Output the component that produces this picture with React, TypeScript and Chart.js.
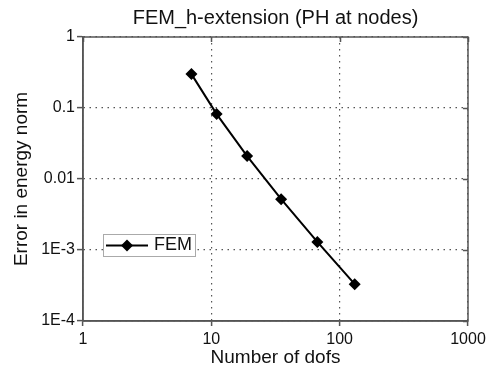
import React, { useEffect, useRef } from "react";
import { Chart, registerables } from "chart.js";

Chart.register(...registerables);

const dofs = [7, 11, 19, 35, 67, 131];
const errors = [0.3, 0.082, 0.021, 0.0052, 0.0013, 0.00033];
const xTickValues = [1, 10, 100, 1000];
const xTickLabels = ["1", "10", "100", "1000"];
const yTickValues = [1, 0.1, 0.01, 0.001, 0.0001];
const yTickLabels = ["1", "0.1", "0.01", "1E-3", "1E-4"];
const seriesName = "FEM";
const chartTitle = "FEM_h-extension (PH at nodes)";
const xTitle = "Number of dofs";
const yTitle = "Error in energy norm";

const FONT = '"Liberation Sans", Arial, Helvetica, sans-serif';
const AXIS_COLOR = "#555";
const GRID_COLOR = "#555";
const TEXT_COLOR = "#111";

function labelFor(values: number[], labels: string[], v: number) {
  const i = values.findIndex((t) => Math.abs(Math.log10(t) - Math.log10(v)) < 1e-6);
  return i >= 0 ? labels[i] : "";
}

const decorPlugin = {
  id: "decor",
  afterDraw(chart: any) {
    const { ctx, chartArea: a, scales } = chart;
    ctx.save();
    // frame
    ctx.strokeStyle = AXIS_COLOR;
    ctx.lineWidth = 1.5;
    ctx.setLineDash([]);
    ctx.strokeRect(a.left, a.top, a.right - a.left, a.bottom - a.top);
    // inward ticks on top and right
    ctx.beginPath();
    xTickValues.forEach((v) => {
      const px = Math.round(scales.x.getPixelForValue(v)) + 0.5;
      ctx.moveTo(px, a.top);
      ctx.lineTo(px, a.top + 5);
    });
    yTickValues.forEach((v) => {
      const py = Math.round(scales.y.getPixelForValue(v)) + 0.5;
      ctx.moveTo(a.right, py);
      ctx.lineTo(a.right - 5, py);
    });
    ctx.stroke();

    // title
    ctx.fillStyle = TEXT_COLOR;
    ctx.font = `20px ${FONT}`;
    ctx.textAlign = "center";
    ctx.textBaseline = "middle";
    ctx.fillText(chartTitle, (a.left + a.right) / 2, 18);

    // legend box
    const bx = a.left + 20;
    const by = a.top + 197;
    const bw = 92;
    const bh = 22;
    ctx.fillStyle = "#fff";
    ctx.fillRect(bx, by, bw, bh);
    ctx.strokeStyle = "#aaa";
    ctx.lineWidth = 1;
    ctx.strokeRect(bx + 0.5, by + 0.5, bw, bh);
    const cy = by + bh / 2 + 0.5;
    ctx.strokeStyle = "#000";
    ctx.lineWidth = 2;
    ctx.beginPath();
    ctx.moveTo(bx + 3, cy);
    ctx.lineTo(bx + 45, cy);
    ctx.stroke();
    const dx = bx + 24;
    const r = 6;
    ctx.fillStyle = "#000";
    ctx.beginPath();
    ctx.moveTo(dx, cy - r);
    ctx.lineTo(dx + r, cy);
    ctx.lineTo(dx, cy + r);
    ctx.lineTo(dx - r, cy);
    ctx.closePath();
    ctx.fill();
    ctx.fillStyle = TEXT_COLOR;
    ctx.font = `18px ${FONT}`;
    ctx.textAlign = "left";
    ctx.textBaseline = "middle";
    ctx.fillText(seriesName, bx + 51, cy);
    ctx.restore();
  },
};

export default function App() {
  const canvasRef = useRef<HTMLCanvasElement | null>(null);

  useEffect(() => {
    if (!canvasRef.current) return;
    const chart = new Chart(canvasRef.current, {
      type: "scatter",
      data: {
        datasets: [
          {
            label: seriesName,
            data: dofs.map((x, i) => ({ x, y: errors[i] })),
            showLine: true,
            borderColor: "#000",
            backgroundColor: "#000",
            borderWidth: 2,
            pointStyle: "rectRot",
            pointRadius: 6,
            pointHoverRadius: 6,
            pointBorderWidth: 0,
          },
        ],
      },
      options: {
        animation: false,
        responsive: true,
        maintainAspectRatio: false,
        layout: { padding: { top: 37, right: 24, left: 0, bottom: 0 } },
        plugins: {
          legend: { display: false },
          title: { display: false },
          tooltip: { enabled: false },
        },
        scales: {
          x: {
            type: "logarithmic",
            min: 1,
            max: 1000,
            afterBuildTicks: (s: any) => {
              s.ticks = xTickValues.map((v) => ({ value: v }));
            },
            afterFit: (s: any) => {
              s.height = 52;
            },
            ticks: {
              autoSkip: false,
              maxRotation: 0,
              padding: 4,
              color: TEXT_COLOR,
              font: { family: FONT, size: 16 },
              callback: (v: any) => labelFor(xTickValues, xTickLabels, Number(v)),
            },
            grid: {
              color: GRID_COLOR,
              lineWidth: 1.2,
              tickLength: 5,
              tickColor: AXIS_COLOR,
              tickWidth: 1.5,
              tickBorderDash: [],
            },
            border: { display: true, color: AXIS_COLOR, width: 1.5, dash: [1.5, 4.5] },
            title: {
              display: true,
              text: xTitle,
              color: TEXT_COLOR,
              font: { family: FONT, size: 19 },
              padding: { top: 0, bottom: 4 },
            },
          },
          y: {
            type: "logarithmic",
            min: 0.0001,
            max: 1,
            afterBuildTicks: (s: any) => {
              s.ticks = yTickValues.map((v) => ({ value: v }));
            },
            afterFit: (s: any) => {
              s.width = 83;
            },
            ticks: {
              autoSkip: false,
              padding: 2,
              color: TEXT_COLOR,
              font: { family: FONT, size: 16 },
              callback: (v: any) => labelFor(yTickValues, yTickLabels, Number(v)),
            },
            grid: {
              color: GRID_COLOR,
              lineWidth: 1.2,
              tickLength: 6,
              tickColor: AXIS_COLOR,
              tickWidth: 1.5,
              tickBorderDash: [],
            },
            border: { display: true, color: AXIS_COLOR, width: 1.5, dash: [1.5, 4.5] },
            title: {
              display: true,
              text: yTitle,
              color: TEXT_COLOR,
              font: { family: FONT, size: 19 },
              padding: { top: 10, bottom: 0 },
            },
          },
        },
      },
      plugins: [decorPlugin],
    } as any);
    return () => chart.destroy();
  }, []);

  return (
    <div style={{ position: "fixed", left: 0, top: 0, width: 492, height: 373, background: "#fff" }}>
      <canvas ref={canvasRef} />
    </div>
  );
}
